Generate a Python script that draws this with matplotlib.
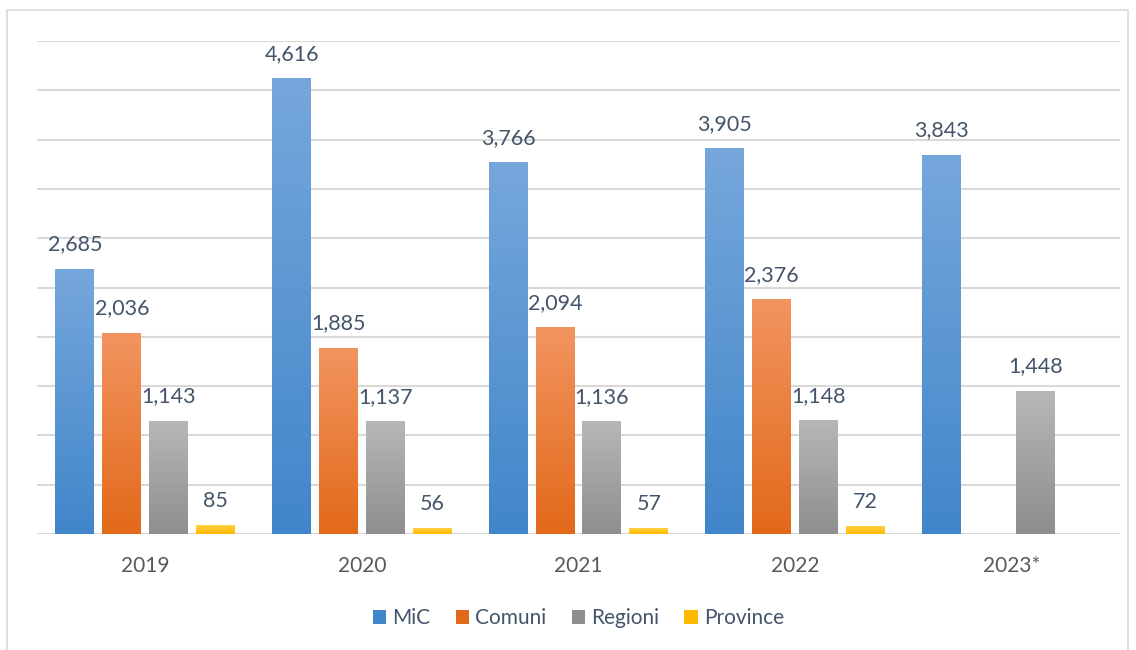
import numpy as np
import matplotlib.pyplot as plt
from matplotlib.patches import Rectangle
from matplotlib.colors import LinearSegmentedColormap

years = ["2019", "2020", "2021", "2022", "2023*"]
series = ["MiC", "Comuni", "Regioni", "Province"]
mic = [2685, 4616, 3766, 3905, 3843]
comuni = [2036, 1885, 2094, 2376, None]
regioni = [1143, 1137, 1136, 1148, 1448]
province = [85, 56, 57, 72, None]

# top / bottom colours of each gradient
grad = {
    "MiC": ("#76A7DC", "#4186CA"),
    "Comuni": ("#F29460", "#E2691A"),
    "Regioni": ("#B7B7B7", "#8E8E8E"),
    "Province": ("#FFD140", "#FFB900"),
}
label_col = "#44546A"
grid_col = "#D9D9D9"

plt.rcParams['font.family'] = ['Lato', 'DejaVu Sans']

fig = plt.figure(figsize=(11.36, 6.5), dpi=100)
ax = fig.add_axes([37/1136, 1 - 534/650, (1120 - 37)/1136, (534 - 41)/650])

# chart frame (bottom edge runs off the picture)
fig.patches.append(Rectangle((7/1136, -6/650), 1121/1136, 646/650, transform=fig.transFigure,
                             fill=False, edgecolor=grid_col, linewidth=1.2))

ax.set_yticks(np.arange(0, 5001, 500))
ax.yaxis.grid(True, color=grid_col, linewidth=1.5)
ax.set_axisbelow(True)
for s in ax.spines.values():
    s.set_visible(False)
ax.tick_params(axis='y', left=False, labelleft=False)
ax.tick_params(axis='x', bottom=False, labelsize=15, labelcolor="#595959", pad=12)
ax.set_xticks(range(len(years)))
ax.set_xticklabels(years)

width = 0.18
pitch = 0.2166
data = [mic, comuni, regioni, province]
x = np.arange(len(years))
for i, (name, vals) in enumerate(zip(series, data)):
    cmap = LinearSegmentedColormap.from_list(name, [grad[name][1], grad[name][0]])
    offs = (i - 1.5) * pitch
    for j, v in enumerate(vals):
        if v is None:
            continue
        x0 = x[j] + offs - width / 2
        img = np.linspace(0, 1, 256).reshape(-1, 1)
        ax.imshow(img, cmap=cmap, origin='lower', aspect='auto',
                  extent=(x0, x0 + width, 0, v), zorder=2)
        ax.text(x0 + width / 2, v + 150, f"{v:,}", ha='center', va='bottom',
                fontsize=15.5, color=label_col)
    ax.bar([np.nan], [0], color=grad[name][1], label=name)

ax.set_xlim(-0.5, 4.5)
ax.set_ylim(0, 5000)

leg = ax.legend(loc='center', bbox_to_anchor=(0.5, (618 - 534) / -(534 - 41)), ncol=4,
                frameon=False, fontsize=15, handlelength=0.65, handleheight=0.65,
                handletextpad=0.3, columnspacing=1.2)
for t in leg.get_texts():
    t.set_color(label_col)

fig.savefig("out.png", dpi=100)
